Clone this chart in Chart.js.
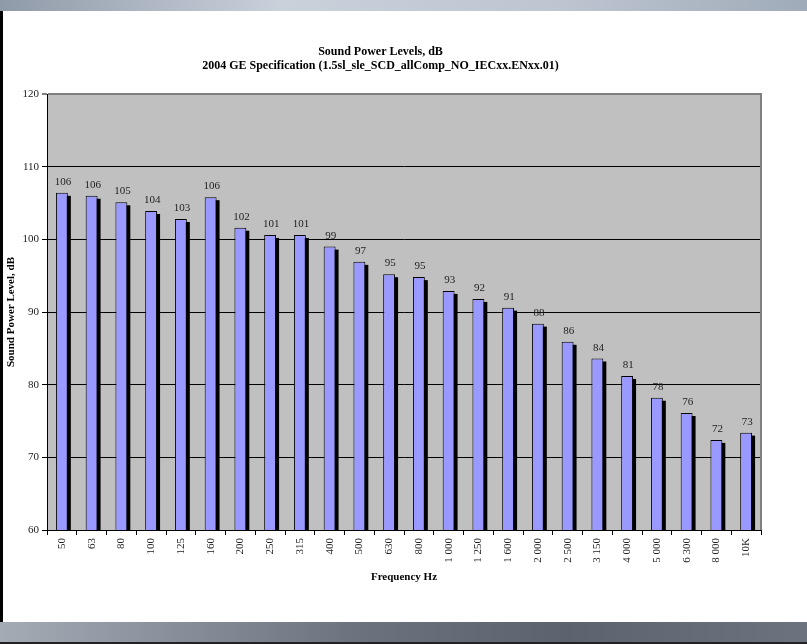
<!DOCTYPE html>
<html>
<head>
<meta charset="utf-8">
<script src="https://cdn.jsdelivr.net/npm/chart.js@4/dist/chart.umd.min.js"></script>
<style>
  html, body { margin: 0; padding: 0; background: #fff; }
  body { width: 807px; height: 644px; position: relative; overflow: hidden; }
  .band-top { position: absolute; left: 0; top: 0; width: 807px; height: 11px;
    background: linear-gradient(to right, #8f9aa8, #c9d1db 35%, #bcc5d0 70%, #a0abb9); }
  .band-bottom { position: absolute; left: 0; top: 622px; width: 807px; height: 22px;
    background: linear-gradient(to right, #a4abb5, #8a919c 20%, #6b717d 45%, #5c626e 70%, #6c727e);
    border-bottom: 2px solid #222; box-sizing: border-box; }
  .edge-left { position: absolute; left: 0; top: 11px; width: 3px; height: 611px; background: #000; }
  canvas { position: absolute; left: 0; top: 0; }
</style>
</head>
<body>
<div class="band-top"></div>
<div class="edge-left"></div>
<div class="band-bottom"></div>
<canvas id="chart" width="807" height="644"></canvas>
<script>
// frequency bands (Hz)
const bands = ["50", "63", "80", "100", "125", "160", "200", "250", "315", "400", "500", "630",
  "800", "1 000", "1 250", "1 600", "2 000", "2 500", "3 150", "4 000", "5 000", "6 300", "8 000", "10K"];
// sound power level, dB
const levels = [106.4, 106.0, 105.1, 103.9, 102.8, 105.8, 101.6, 100.6, 100.6, 99.0, 96.9, 95.2,
  94.8, 92.9, 91.8, 90.6, 88.4, 85.9, 83.6, 81.2, 78.2, 76.1, 72.4, 73.4];
const titleLines = ["Sound Power Levels, dB", "2004 GE Specification (1.5sl_sle_SCD_allComp_NO_IECxx.ENxx.01)"];
const yMin = 60, yMax = 120, yStep = 10;

const serif = "'Liberation Serif', 'Times New Roman', serif";

// grey plot background + right edge
const plotFrame = {
  id: "plotFrame",
  beforeDraw(chart) {
    const { ctx, chartArea: a } = chart;
    ctx.save();
    ctx.fillStyle = "#c0c0c0";
    ctx.fillRect(a.left, a.top, a.right - a.left, a.bottom - a.top);
    ctx.restore();
  },
  afterDraw(chart) {
    const { ctx, chartArea: a } = chart;
    ctx.save();
    ctx.strokeStyle = "#808080";
    ctx.lineWidth = 2;
    ctx.beginPath();
    ctx.moveTo(a.right, a.top - 1);
    ctx.lineTo(a.right, a.bottom);
    ctx.stroke();
    ctx.restore();
  }
};

// black offset shadow behind each bar, value labels above
const barExtras = {
  id: "barExtras",
  beforeDatasetsDraw(chart) {
    const { ctx, chartArea: a } = chart;
    ctx.save();
    ctx.beginPath();
    ctx.rect(a.left, a.top, a.right - a.left, a.bottom - a.top);
    ctx.clip();
    ctx.fillStyle = "#000";
    chart.getDatasetMeta(0).data.forEach((bar) => {
      const { x, y, width, base } = bar.getProps(["x", "y", "width", "base"], true);
      ctx.fillRect(x - width / 2 + 3, y + 3, width, base - y);
    });
    ctx.restore();
  },
  afterDatasetsDraw(chart) {
    const ctx = chart.ctx;
    ctx.save();
    ctx.font = "11px " + serif;
    ctx.fillStyle = "#222";
    ctx.textAlign = "center";
    ctx.textBaseline = "alphabetic";
    chart.getDatasetMeta(0).data.forEach((bar, i) => {
      ctx.fillText(String(Math.round(levels[i])), bar.x + 1, bar.y - 8);
    });
    ctx.restore();
  }
};

new Chart(document.getElementById("chart"), {
  type: "bar",
  data: {
    labels: bands,
    datasets: [{
      data: levels,
      backgroundColor: "#9999ff",
      borderColor: "#000",
      borderWidth: 1,
      borderSkipped: "bottom",
      barPercentage: 0.4,
      categoryPercentage: 1,
      clip: 0
    }]
  },
  options: {
    responsive: false,
    devicePixelRatio: 1,
    animation: false,
    layout: { padding: { left: 0, right: 46, top: 0, bottom: 0 } },
    plugins: {
      legend: { display: false },
      tooltip: { enabled: false },
      title: {
        display: true,
        text: titleLines,
        color: "#000",
        font: { family: serif, size: 12, weight: "bold", lineHeight: "14px" },
        padding: { top: 45, bottom: 21 }
      }
    },
    scales: {
      x: {
        z: 1,
        afterFit(scale) { scale.height = 114; },
        grid: { display: true, drawOnChartArea: false, drawTicks: true, tickLength: 5, color: "#000", offset: true },
        border: { display: true, color: "#000", width: 1 },
        ticks: {
          color: "#222",
          font: { family: serif, size: 11 },
          minRotation: 90,
          maxRotation: 90,
          padding: 3,
          autoSkip: false
        },
        title: {
          display: true,
          text: "Frequency Hz",
          color: "#000",
          font: { family: serif, size: 11, weight: "bold" },
          padding: { top: 4, bottom: 60 }
        }
      },
      y: {
        min: yMin,
        max: yMax,
        afterFit(scale) { scale.width = 47; },
        grid: {
          drawTicks: true,
          tickLength: 5,
          tickColor: "#000",
          tickWidth: 1,
          color: (c) => (c.tick && c.tick.value === yMax ? "#808080" : "#000"),
          lineWidth: (c) => (c.tick && c.tick.value === yMax ? 2 : 1)
        },
        border: { display: true, color: "#000", width: 1 },
        ticks: {
          stepSize: yStep,
          color: "#222",
          font: { family: serif, size: 11 },
          padding: 3
        },
        title: {
          display: true,
          text: "Sound Power Level, dB",
          color: "#000",
          font: { family: serif, size: 11, weight: "bold" },
          padding: { top: 5, bottom: 0 }
        }
      }
    }
  },
  plugins: [plotFrame, barExtras]
});
</script>
</body>
</html>
